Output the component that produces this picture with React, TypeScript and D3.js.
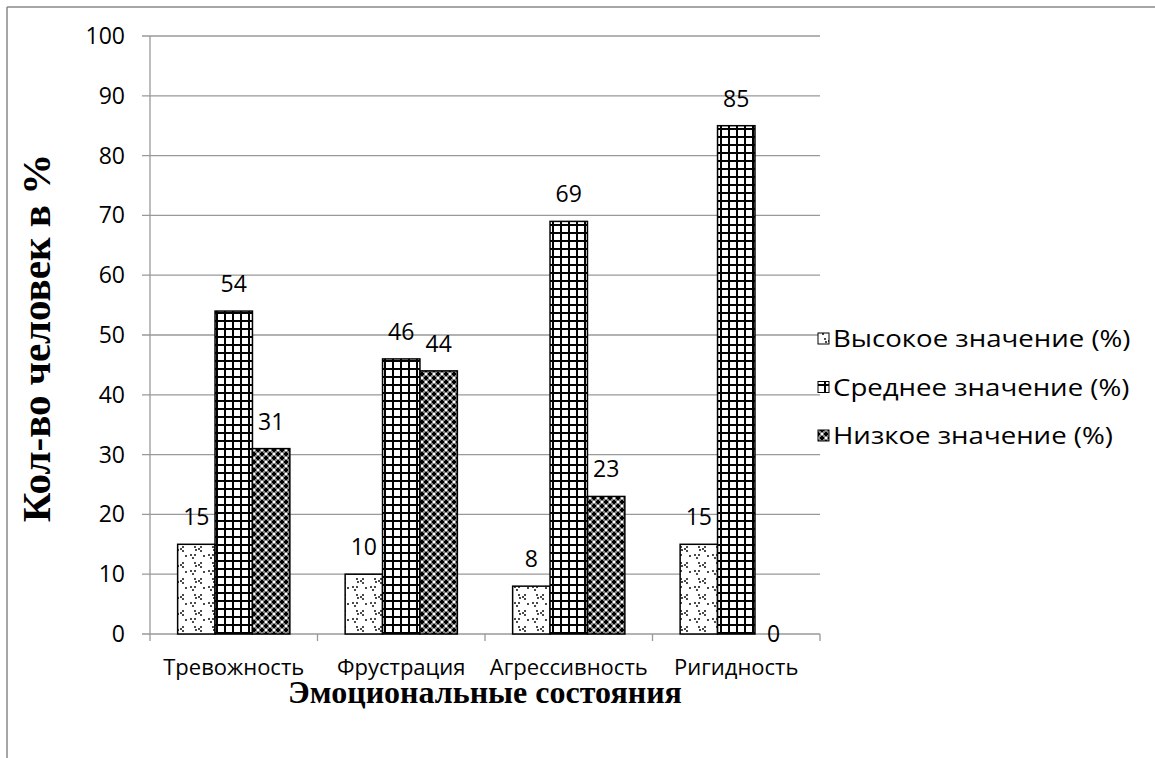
import React from "react";
import * as d3 from "d3";

const categories = ["Тревожность", "Фрустрация", "Агрессивность", "Ригидность"];
const seriesNames = ["Высокое значение (%)", "Среднее значение (%)", "Низкое значение (%)"];
const highValues = [15, 10, 8, 15];
const midValues = [54, 46, 69, 85];
const lowValues = [31, 44, 23, 0];
const yTicks = [0, 10, 20, 30, 40, 50, 60, 70, 80, 90, 100];
const yTitle = "Кол-во человек в %";
const xTitle = "Эмоциональные состояния";

const W = 1155, H = 758;
const plot = { left: 150, right: 820, top: 36, bottom: 634 };
const FONT = "'Open Sans', 'Noto Sans', sans-serif";
const SERIF = "'Liberation Serif', 'Times New Roman', serif";
const patternIds = ["pHigh", "pMid", "pLow"];

export default function App() {
  const series = [highValues, midValues, lowValues];
  const y = d3.scaleLinear().domain([0, 100]).range([plot.bottom, plot.top]);
  const x0 = d3.scaleBand<string>().domain(categories).range([plot.left, plot.right]).paddingInner(0.33).paddingOuter(0.165);
  const x1 = d3.scaleBand<number>().domain([0, 1, 2]).range([0, x0.bandwidth()]);
  const step = (plot.right - plot.left) / categories.length;

  return (
    <svg width={W} height={H} style={{ position: "absolute", left: 0, top: 0, background: "#fff" }}>
      <defs>
        <pattern id="pHigh" patternUnits="userSpaceOnUse" width="18" height="16">
          <rect width="18" height="16" fill="#fff" />
          <g fill="#4a4a4a">
            <rect x="2" y="2" width="2" height="2" />
            <rect x="0" y="4" width="2" height="2" />
            <rect x="2" y="6" width="2" height="2" />
            <rect x="10" y="10" width="2" height="2" />
            <rect x="14" y="10" width="2" height="2" />
            <rect x="12" y="13" width="2" height="2" />
            <rect x="14" y="2" width="2" height="2" />
            <rect x="15" y="5" width="2" height="2" />
            <rect x="5" y="11" width="2" height="2" />
          </g>
        </pattern>
        <pattern id="pMid" patternUnits="userSpaceOnUse" width="8" height="8">
          <rect width="8" height="8" fill="#fff" />
          <rect x="0" y="0" width="8" height="2" fill="#000" />
          <rect x="0" y="0" width="2" height="8" fill="#000" />
        </pattern>
        <pattern id="pLow" patternUnits="userSpaceOnUse" width="8" height="8">
          <rect width="8" height="8" fill="#888" />
          <g fill="#000">
            <rect x="1" y="0" width="2" height="4" />
            <rect x="0" y="1" width="4" height="2" />
            <rect x="5" y="4" width="2" height="4" />
            <rect x="4" y="5" width="4" height="2" />
          </g>
          <g fill="#fff">
            <rect x="5" y="1" width="2" height="2" />
            <rect x="1" y="5" width="2" height="2" />
          </g>
        </pattern>
      </defs>

      {/* outer frame */}
      <line x1={7} y1={7} x2={W} y2={7} stroke="#888" strokeWidth={1.5} />
      <line x1={7} y1={7} x2={7} y2={H} stroke="#888" strokeWidth={1.5} />

      {/* gridlines and y ticks */}
      {yTicks.map((t) => (
        <g key={t}>
          <line x1={plot.left - 8} x2={plot.right} y1={y(t)} y2={y(t)} stroke="#999" strokeWidth={1.3} />
          <text x={125} y={y(t) + 8} textAnchor="end" fontFamily={FONT} fontSize={23} fill="#000">{t}</text>
        </g>
      ))}
      <line x1={plot.left} x2={plot.left} y1={plot.top} y2={plot.bottom} stroke="#999" strokeWidth={1.3} />
      {d3.range(categories.length + 1).map((i) => (
        <line key={i} x1={plot.left + i * step} x2={plot.left + i * step} y1={plot.bottom} y2={plot.bottom + 7} stroke="#999" strokeWidth={1.3} />
      ))}

      {/* bars */}
      {categories.map((c, ci) => (
        <g key={c}>
          {series.map((vals, si) => {
            const v = vals[ci];
            const bx = (x0(c) as number) + (x1(si) as number);
            const by = y(v);
            const bw = x1.bandwidth();
            const labelY = v === 0 ? y(0) + 8 : by - 19;
            return (
              <g key={si}>
                {v > 0 && (
                  <rect x={bx} y={by} width={bw} height={plot.bottom - by} fill={`url(#${patternIds[si]})`} stroke="#000" strokeWidth={1.5} />
                )}
                <text x={bx + bw / 2} y={labelY} textAnchor="middle" fontFamily={FONT} fontSize={23} fill="#000">{v}</text>
              </g>
            );
          })}
          <text x={(x0(c) as number) + x0.bandwidth() / 2} y={675} textAnchor="middle" fontFamily={FONT} fontSize={22} fill="#000">{c}</text>
        </g>
      ))}

      {/* axis titles */}
      <text transform={`translate(50, 338) rotate(-90)`} textAnchor="middle" fontFamily={SERIF} fontWeight="bold" fontSize={41} fill="#000">{yTitle}</text>
      <text x={485} y={703} textAnchor="middle" fontFamily={SERIF} fontWeight="bold" fontSize={32} fill="#000">{xTitle}</text>

      {/* legend */}
      {seriesNames.map((n, i) => {
        const ly = 339 + i * 48.5;
        return (
          <g key={n}>
            <rect x={818} y={ly - 6} width={11} height={11} fill={`url(#${patternIds[i]})`} stroke="#000" strokeWidth={1} />
            <text transform={`translate(833, ${ly + 8}) scale(1.15, 1)`} fontFamily={FONT} fontSize={24} fill="#000">{n}</text>
          </g>
        );
      })}
    </svg>
  );
}
